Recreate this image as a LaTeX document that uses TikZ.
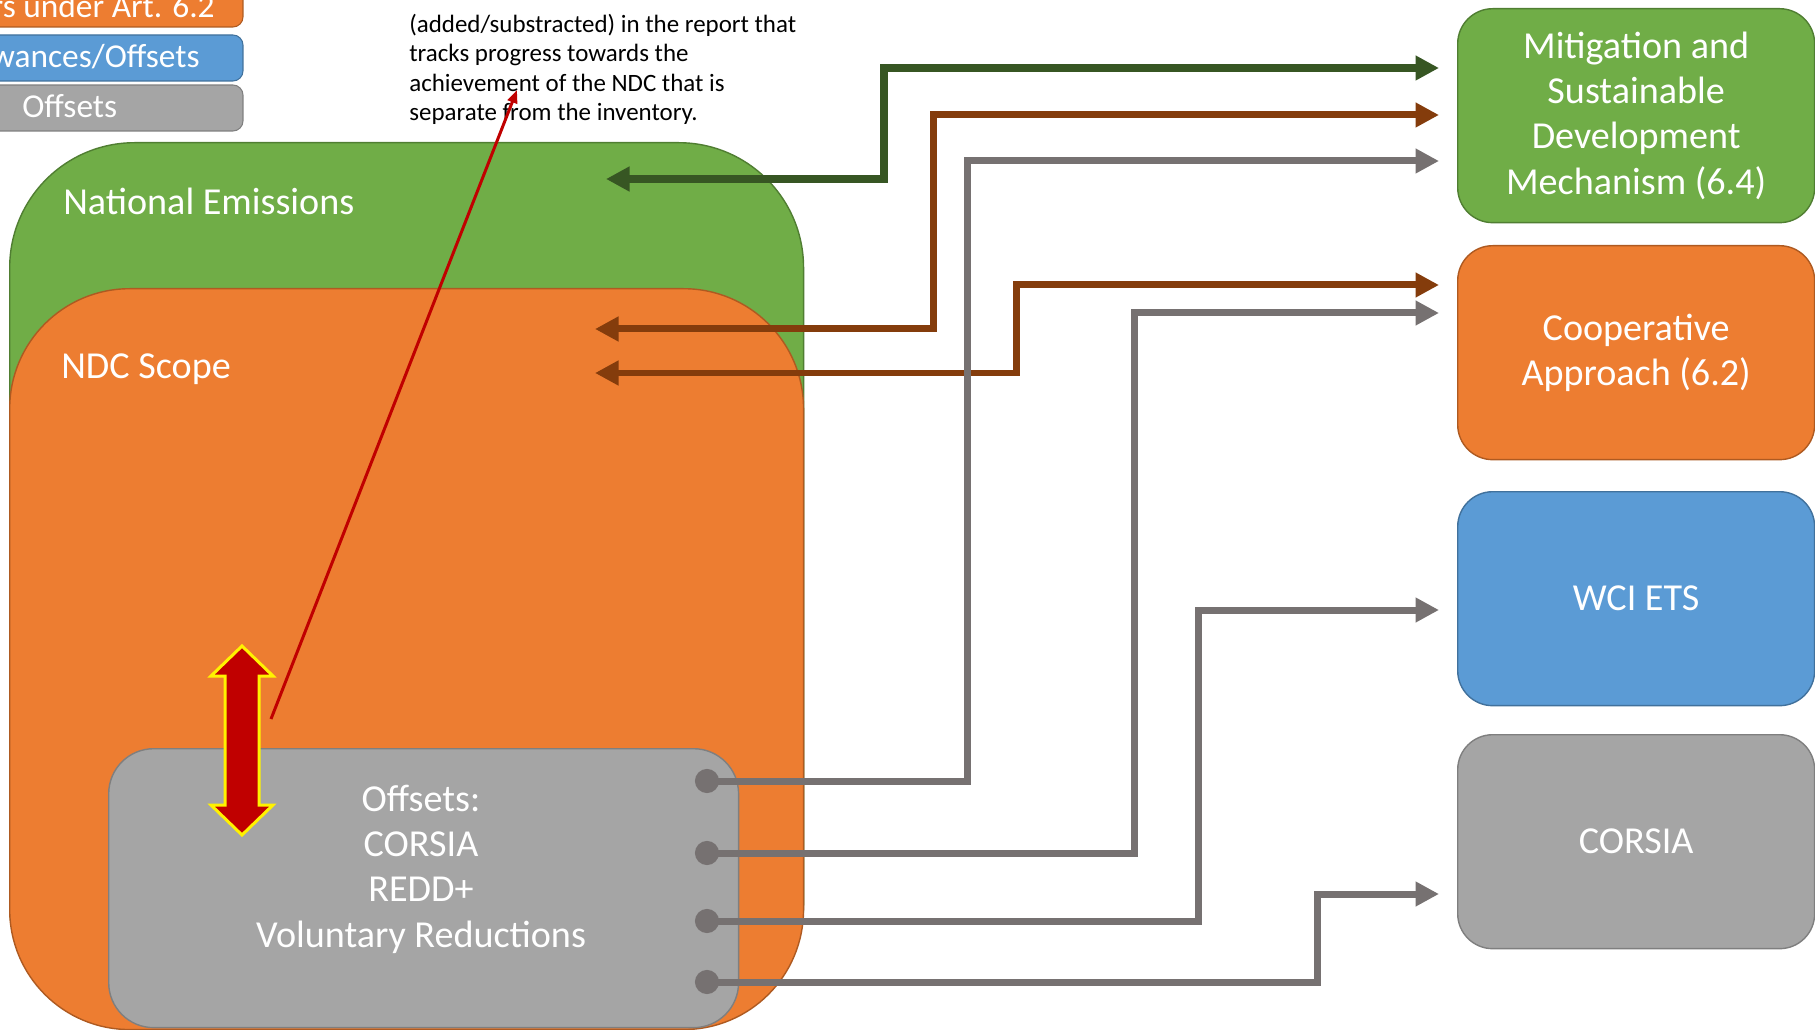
\documentclass[tikz,border=0pt]{standalone}
\usepackage{fontspec}
\setmainfont{Carlito}
\usetikzlibrary{arrows.meta,calc,positioning}

\definecolor{emigreen}{HTML}{70AD47}
\definecolor{emigreenline}{HTML}{507E32}
\definecolor{ndcorange}{HTML}{ED7D31}
\definecolor{ndcorangeline}{HTML}{AE5A21}
\definecolor{etsblue}{HTML}{5B9BD5}
\definecolor{etsblueline}{HTML}{41719C}
\definecolor{offgray}{HTML}{A5A5A5}
\definecolor{offgrayline}{HTML}{7F7F7F}
\definecolor{linkgreen}{HTML}{375623}
\definecolor{linkbrown}{HTML}{843C0C}
\definecolor{linkgray}{HTML}{767171}
\definecolor{notered}{HTML}{C00000}

\tikzset{
  bigtext/.style={text=white,font=\fontsize{21.7}{25.8}\selectfont},
  legtext/.style={text=white,font=\fontsize{19}{22}\selectfont,inner sep=0pt},
  notetext/.style={text=black,font=\fontsize{14.2}{16.8}\selectfont},
  areabox/.style={draw=#1line,fill=#1,line width=0.8pt,anchor=north west,inner sep=0pt},
  mechbox/.style={draw=#1line,fill=#1,line width=0.8pt,rounded corners=0.7cm,
    minimum width=7.14cm,minimum height=4.28cm,anchor=north west,align=center,inner sep=0pt,bigtext},
  legbox/.style={draw=#1line,fill=#1,line width=0.6pt,rounded corners=0.2cm,minimum width=5.66cm,inner sep=0pt},
  greenlink/.style={draw=linkgreen,line width=0.16cm,<->,shorten >=0.36cm},
  brownlink/.style={draw=linkbrown,line width=0.14cm,<->,shorten >=0.36cm},
  graylink/.style={draw=linkgray,line width=0.14cm,arrows={Circle[length=0.48cm]->},shorten >=0.36cm},
}

\begin{document}
\begin{tikzpicture}[x=0.02cm,y=-0.02cm,>={Triangle[length=0.47cm,width=0.47cm]}]
  \clip (0,0) rectangle (1815,1030);

  % legend (cut by the page edge)
  \node[legbox=ndcorange,minimum height=1.14cm] (legitmo) at (101.5,-1.5) {};
  \node[legbox=etsblue,minimum height=0.92cm] (legallow) at (101.5,58) {};
  \node[legbox=offgray,minimum height=0.92cm] (legoff) at (101.5,108) {};
  \node[legtext,anchor=base east] (legitmotext) at (215,18) {rs under Art. 6.2};
  \node[legtext,anchor=base east] (legallowtext) at (200,68) {wances/Offsets};
  \node[legtext,anchor=base west] (legofftext) at (22,118) {Offsets};

  % nested scopes
  \node[areabox=emigreen,minimum width=15.88cm,minimum height=17.74cm,rounded corners=2.5cm] (natem) at (9,142) {};
  \node[areabox=ndcorange,minimum width=15.88cm,minimum height=14.82cm,rounded corners=2.4cm] (ndc) at (9,288) {};
  \node[areabox=offgray,minimum width=12.6cm,minimum height=5.58cm,rounded corners=0.9cm] (offs) at (108,748) {};
  \node[bigtext,anchor=base west,inner sep=0pt] (natemlabel) at (63,215) {National Emissions};
  \node[bigtext,anchor=base west,inner sep=0pt] (ndclabel) at (61,378) {NDC Scope};
  \node[bigtext,align=center] (offslabel) at (421,869) {Offsets:\\CORSIA\\REDD+\\Voluntary Reductions};

  % mechanisms
  \node[mechbox=emigreen] (mech) at (1457,8) {Mitigation and\\Sustainable\\Development\\Mechanism (6.4)};
  \node[mechbox=ndcorange] (coop) at (1457,245) {Cooperative\\Approach (6.2)};
  \node[mechbox=etsblue] (wci) at (1457,491) {WCI ETS};
  \node[mechbox=offgray] (corsia) at (1457,734) {CORSIA};

  % note
  \node[notetext,anchor=north west,align=left,inner sep=0pt] (note) at (409,13.5)
    {(added/substracted) in the report that\\tracks progress towards the\\achievement of the NDC that is\\separate from the inventory.};

  % links
  \coordinate (natemin) at (606,179);
  \coordinate (ndcin1) at (595,329);
  \coordinate (ndcin2) at (595,373);
  \foreach \i/\y in {1/781,2/853,3/921,4/982}
    \coordinate (dot\i) at (695,\y);
  \draw[greenlink] (natemin) -| (884,68) -- (mech.west |- 0,68);
  \draw[brownlink] (ndcin1) -| (933,115) -- (mech.west |- 0,115);
  \draw[brownlink] (ndcin2) -| (1016,285) -- (coop.west |- 0,285);
  \foreach \d/\vx/\ty/\target in {1/967/161/mech,2/1134/313/coop,3/1198/610/wci,4/1317/894/corsia}
    \draw[graylink] (dot\d) -| (\vx,\ty) -- (\target.west |- 0,\ty);

  % double arrow
  \draw[fill=notered,draw=yellow,line width=0.06cm] (242,646) -- (273,676) -- (259,676) -- (259,805)
    -- (273,805) -- (242,835) -- (211,805) -- (225,805) -- (225,676) -- (211,676) -- cycle;

  % pointer to the note
  \coordinate (notetail) at (271,719);
  \coordinate (notetip) at (517,90);
  \draw[notered,line width=0.06cm,-{Triangle[length=0.26cm,width=0.2cm]}] (notetail) -- (notetip);
\end{tikzpicture}
\end{document}
